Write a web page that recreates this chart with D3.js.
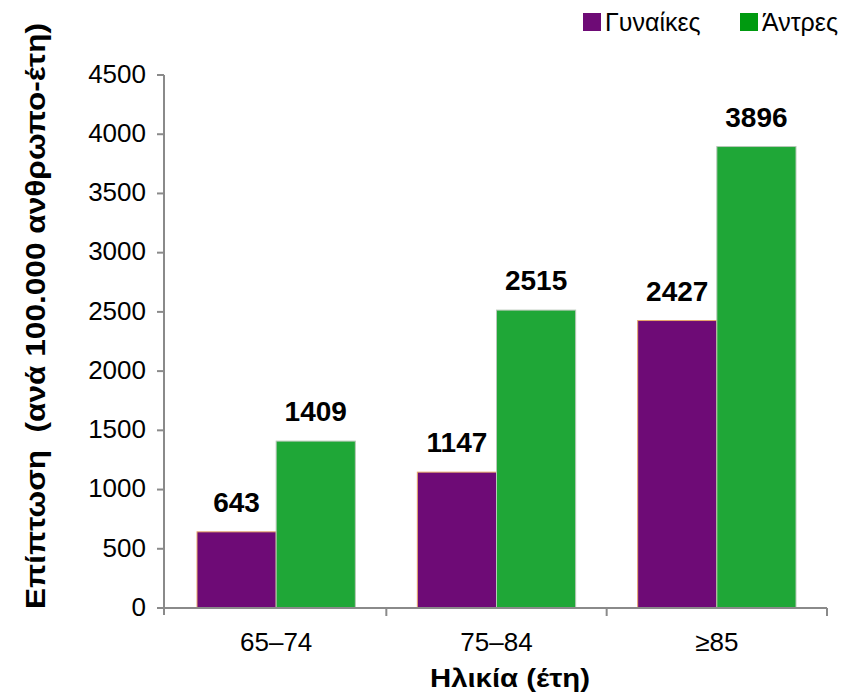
<!DOCTYPE html>
<html>
<head>
<meta charset="utf-8">
<script src="https://cdn.jsdelivr.net/npm/d3@7"></script>
<style>
  html, body { margin: 0; padding: 0; background: #fff; }
  svg { display: block; font-family: "Liberation Sans", Arial, sans-serif; }
</style>
</head>
<body>
<svg id="chart" width="852" height="694"></svg>
<script>
// Age groups and incidence per 100,000 person-years
const ageGroups = ["65–74", "75–84", "≥85"];
const women = [643, 1147, 2427];
const men = [1409, 2515, 3896];
const seriesNames = ["Γυναίκες", "Άντρες"];
const yTicks = [0, 500, 1000, 1500, 2000, 2500, 3000, 3500, 4000, 4500];

const barColors = ["#6e0b76", "#1fa737"];
const barStrokes = ["#e7a86a", "#b8c8b8"];
const legendColors = ["#6e0b76", "#009a10"];

const svg = d3.select("#chart");
const axisColor = "#8a8a8a";

const x0 = d3.scaleBand().domain(ageGroups).range([166, 827]);
const x1 = d3.scaleBand().domain(seriesNames).range([31, x0.bandwidth() - 31]);
const y = d3.scaleLinear().domain([0, 4500]).range([608, 75]);

const rows = ageGroups.map((g, i) => ({ group: g, values: [women[i], men[i]] }));

// Bars
const groups = svg.append("g").selectAll("g")
  .data(rows).join("g")
  .attr("transform", d => `translate(${x0(d.group)},0)`);

groups.selectAll("rect")
  .data(d => d.values.map((v, j) => ({ v, j })))
  .join("rect")
  .attr("x", d => x1(seriesNames[d.j]))
  .attr("y", d => y(d.v))
  .attr("width", x1.bandwidth())
  .attr("height", d => y(0) - y(d.v))
  .attr("fill", d => barColors[d.j])
  .attr("stroke", d => barStrokes[d.j])
  .attr("stroke-width", 1);

// Value labels
groups.selectAll("text")
  .data(d => d.values.map((v, j) => ({ v, j })))
  .join("text")
  .attr("x", d => x1(seriesNames[d.j]) + x1.bandwidth() / 2)
  .attr("y", d => y(d.v) - 20)
  .attr("text-anchor", "middle")
  .attr("font-size", 28)
  .attr("font-weight", "bold")
  .attr("fill", "#000")
  .text(d => d.v);

// Y axis
const yAxisX = 164;
svg.append("line")
  .attr("x1", yAxisX).attr("x2", yAxisX)
  .attr("y1", y(4500)).attr("y2", y(0) + 7)
  .attr("stroke", axisColor).attr("stroke-width", 2);
svg.append("g").selectAll("line")
  .data(yTicks).join("line")
  .attr("x1", yAxisX - 7).attr("x2", yAxisX)
  .attr("y1", d => y(d)).attr("y2", d => y(d))
  .attr("stroke", axisColor).attr("stroke-width", 2);
svg.append("g").selectAll("text")
  .data(yTicks).join("text")
  .attr("x", 146)
  .attr("y", d => y(d))
  .attr("dy", "0.3em")
  .attr("text-anchor", "end")
  .attr("font-size", 26)
  .attr("fill", "#000")
  .text(d => d);

// X axis
svg.append("line")
  .attr("x1", yAxisX - 7).attr("x2", x0.range()[1])
  .attr("y1", y(0)).attr("y2", y(0))
  .attr("stroke", axisColor).attr("stroke-width", 2);
const boundaries = ageGroups.map(g => x0(g) + x0.bandwidth());
svg.append("g").selectAll("line")
  .data(boundaries).join("line")
  .attr("x1", d => d).attr("x2", d => d)
  .attr("y1", y(0)).attr("y2", y(0) + 8)
  .attr("stroke", axisColor).attr("stroke-width", 2);
svg.append("g").selectAll("text")
  .data(ageGroups).join("text")
  .attr("x", d => x0(d) + x0.bandwidth() / 2)
  .attr("y", 651)
  .attr("text-anchor", "middle")
  .attr("font-size", 26)
  .attr("fill", "#000")
  .text(d => d);

// Axis titles
svg.append("text")
  .attr("transform", "translate(45,316) rotate(-90)")
  .attr("text-anchor", "middle")
  .attr("font-size", 28)
  .attr("font-weight", "bold")
  .attr("fill", "#000")
  .attr("xml:space", "preserve")
  .attr("textLength", 586)
  .attr("lengthAdjust", "spacingAndGlyphs")
  .text("Επίπτωση  (ανά 100.000 ανθρωπο-έτη)");

svg.append("text")
  .attr("x", 510)
  .attr("y", 687)
  .attr("text-anchor", "middle")
  .attr("font-size", 26)
  .attr("font-weight", "bold")
  .attr("fill", "#000")
  .attr("textLength", 160)
  .attr("lengthAdjust", "spacingAndGlyphs")
  .text("Ηλικία (έτη)");

// Legend
const legendX = [583, 740];
const legend = svg.append("g").selectAll("g")
  .data(seriesNames).join("g")
  .attr("transform", (d, i) => `translate(${legendX[i]},13)`);
legend.append("rect")
  .attr("width", 18).attr("height", 18)
  .attr("fill", (d, i) => legendColors[i]);
legend.append("text")
  .attr("x", 22).attr("y", 18)
  .attr("font-size", 25)
  .attr("fill", "#000")
  .text(d => d);
</script>
</body>
</html>
